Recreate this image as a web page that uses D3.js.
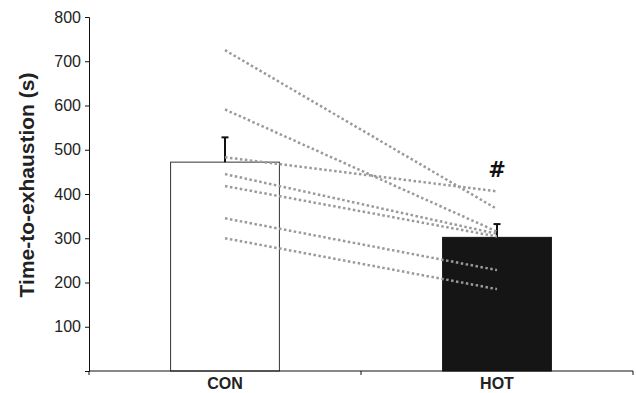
<!DOCTYPE html>
<html>
<head>
<meta charset="utf-8">
<script src="https://cdn.jsdelivr.net/npm/d3@7/dist/d3.min.js"></script>
<style>
  body { margin: 0; background: #fff; }
  svg { font-family: "Liberation Sans", Arial, sans-serif; }
</style>
</head>
<body>
<svg></svg>
<script>
// bar chart with individual subject lines
const categories = ["CON", "HOT"];
const means = [472, 302];
const errors = [56, 30];
const conValues = [725, 591, 483, 445, 418, 345, 300];
const hotValues = [366, 315, 406, 310, 304, 228, 185];
const yTicks = [0, 100, 200, 300, 400, 500, 600, 700, 800];

const w = 636;
const h = 393;
const svg = d3.select("svg").attr("width", w).attr("height", h);

const plotLeft = 89, plotRight = 633, plotTop = 17, plotBottom = 371;

const x = d3.scaleBand()
  .domain(categories)
  .range([plotLeft, plotRight])
  .paddingInner(0.6)
  .paddingOuter(0.3);
// band centers for the lines
const center = (c) => x(c) + x.bandwidth() / 2;

const y = d3.scaleLinear()
  .domain([0, 800])
  .range([plotBottom, plotTop]);

// bars
svg.selectAll("rect.bar")
  .data(categories)
  .enter()
  .append("rect")
  .attr("class", "bar")
  .attr("x", (d) => x(d))
  .attr("y", (d, i) => y(means[i]))
  .attr("width", x.bandwidth())
  .attr("height", (d, i) => plotBottom - y(means[i]))
  .attr("fill", (d, i) => i === 0 ? "#fff" : "#151515")
  .attr("stroke", (d, i) => i === 0 ? "#333" : "#151515")
  .attr("stroke-width", 1);

// error bars (up only)
svg.selectAll("line.err")
  .data(categories)
  .enter()
  .append("line")
  .attr("class", "err")
  .attr("x1", (d) => center(d))
  .attr("x2", (d) => center(d))
  .attr("y1", (d, i) => y(means[i]))
  .attr("y2", (d, i) => y(means[i] + errors[i]))
  .attr("stroke", "#111")
  .attr("stroke-width", 2);
svg.selectAll("line.cap")
  .data(categories)
  .enter()
  .append("line")
  .attr("class", "cap")
  .attr("x1", (d) => center(d) - 3.5)
  .attr("x2", (d) => center(d) + 3.5)
  .attr("y1", (d, i) => y(means[i] + errors[i]))
  .attr("y2", (d, i) => y(means[i] + errors[i]))
  .attr("stroke", "#111")
  .attr("stroke-width", 2);

// individual lines
svg.selectAll("line.subj")
  .data(conValues)
  .enter()
  .append("line")
  .attr("class", "subj")
  .attr("x1", center("CON"))
  .attr("x2", center("HOT"))
  .attr("y1", (d) => y(d))
  .attr("y2", (d, i) => y(hotValues[i]))
  .attr("stroke", "#9a9a9a")
  .attr("stroke-width", 2.5)
  .attr("stroke-dasharray", "2.5,2.5");

// axes
const yAxis = d3.axisLeft(y)
  .tickValues(yTicks)
  .tickSize(4)
  .tickFormat((d) => d === 0 ? "" : d);
const gy = svg.append("g")
  .attr("transform", "translate(" + plotLeft + ",0)")
  .call(yAxis);
gy.select(".domain").attr("stroke", "#111");
gy.selectAll(".tick line").attr("stroke", "#111");
gy.selectAll(".tick text")
  .attr("font-size", 16)
  .attr("fill", "#222")
  .attr("x", -8);

const gx = svg.append("g")
  .attr("transform", "translate(0," + plotBottom + ")");
gx.append("line")
  .attr("x1", plotLeft).attr("x2", plotRight)
  .attr("stroke", "#111");
gx.selectAll("line.xt")
  .data([plotLeft, (plotLeft + plotRight) / 2, plotRight])
  .enter()
  .append("line")
  .attr("class", "xt")
  .attr("x1", (d) => d).attr("x2", (d) => d)
  .attr("y1", 0).attr("y2", 4)
  .attr("stroke", "#111");
gx.selectAll("text")
  .data(categories)
  .enter()
  .append("text")
  .attr("x", (d) => center(d))
  .attr("y", 18)
  .attr("text-anchor", "middle")
  .attr("font-size", 16)
  .attr("font-weight", "bold")
  .attr("fill", "#222")
  .text((d) => d);

// y label
svg.append("text")
  .attr("transform", "translate(34,185) rotate(-90)")
  .attr("text-anchor", "middle")
  .attr("font-size", 21)
  .attr("font-weight", "bold")
  .attr("fill", "#222")
  .text("Time-to-exhaustion (s)");

// significance mark
svg.append("text")
  .attr("x", center("HOT"))
  .attr("y", y(means[1] + errors[1]) - 47)
  .attr("text-anchor", "middle")
  .attr("font-family", "DejaVu Sans")
  .attr("font-size", 21)
  .attr("font-weight", "bold")
  .attr("fill", "#111")
  .text("#");
</script>
</body>
</html>
